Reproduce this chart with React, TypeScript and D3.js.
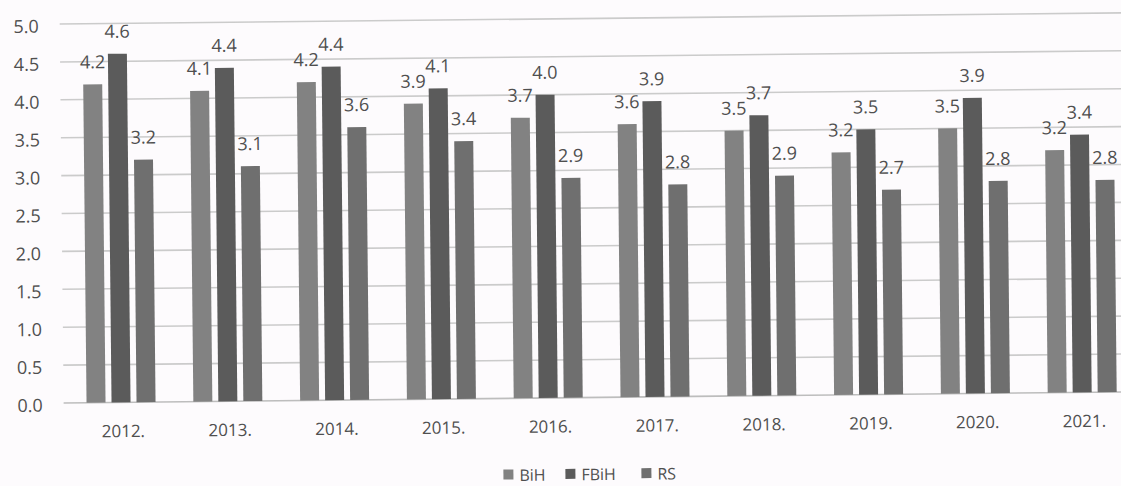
import React from "react";
import * as d3 from "d3";

const years = ["2012.", "2013.", "2014.", "2015.", "2016.", "2017.", "2018.", "2019.", "2020.", "2021."];
const seriesNames = ["BiH", "FBiH", "RS"];
const bihValues = [4.2, 4.1, 4.2, 3.9, 3.7, 3.6, 3.5, 3.2, 3.5, 3.2];
const fbihValues = [4.6, 4.4, 4.4, 4.1, 4.0, 3.9, 3.7, 3.5, 3.9, 3.4];
const rsValues = [3.2, 3.1, 3.6, 3.4, 2.9, 2.8, 2.9, 2.7, 2.8, 2.8];
const yTicks = [0, 0.5, 1, 1.5, 2, 2.5, 3, 3.5, 4, 4.5, 5];
const seriesColors = ["#828282", "#5b5b5b", "#6f6f6f"];

const W = 1121;
const H = 486;
const FONT = "'Open Sans', 'Noto Sans', sans-serif";
const TEXT = "#4f4f4f";

export default function App() {
  const seriesValues = [bihValues, fbihValues, rsValues];
  const x0 = d3.scaleBand<string>().domain(years).range([66, 1134]).padding(0);
  const x1 = d3.scaleBand<string>().domain(seriesNames).range([-34.5, 34.5]).paddingInner(0.24).paddingOuter(0);
  const y = d3.scaleLinear().domain([0, 5]).range([397.8, 18.8]);
  const fmt = d3.format(".1f");

  const legendX = [501, 563, 639];

  return (
    <svg width={W} height={H} style={{ position: "absolute", left: 0, top: 0, display: "block" }}>
      <rect x={-20} y={-20} width={W + 40} height={H + 40} fill="#fdfbfd" />
      <g transform="rotate(-0.6 560 243)" fontFamily={FONT}>
        {yTicks.map((t) => (
          <g key={t}>
            <line x1={62} x2={1150} y1={y(t)} y2={y(t)} stroke={t === 0 ? "#bdbdbd" : "#cbcbcb"} strokeWidth={1.6} />
            <text x={41} y={y(t) + 1.5} textAnchor="end" dominantBaseline="central" fontSize={18} fill={TEXT}>
              {fmt(t)}
            </text>
          </g>
        ))}
        {years.map((yr, i) => {
          const cx = (x0(yr) as number) + x0.bandwidth() / 2;
          return (
            <g key={yr}>
              {seriesNames.map((s, j) => {
                const v = seriesValues[j][i];
                const bx = cx + (x1(s) as number);
                return (
                  <g key={s}>
                    <rect x={bx} y={y(v)} width={x1.bandwidth()} height={y(0) - y(v)} fill={seriesColors[j]} />
                    <text
                      x={bx + x1.bandwidth() / 2}
                      y={y(v) - 23}
                      textAnchor="middle"
                      dominantBaseline="central"
                      fontSize={18}
                      fill={TEXT}
                    >
                      {fmt(v)}
                    </text>
                  </g>
                );
              })}
              <text x={cx + 2} y={426} textAnchor="middle" dominantBaseline="central" fontSize={17} fill={TEXT}>
                {yr}
              </text>
            </g>
          );
        })}
        {seriesNames.map((s, j) => (
          <g key={s}>
            <rect x={legendX[j]} y={469} width={10} height={10} fill={seriesColors[j]} />
            <text x={legendX[j] + 16} y={474.5} dominantBaseline="central" fontSize={16} fill={TEXT}>
              {s}
            </text>
          </g>
        ))}
      </g>
    </svg>
  );
}
